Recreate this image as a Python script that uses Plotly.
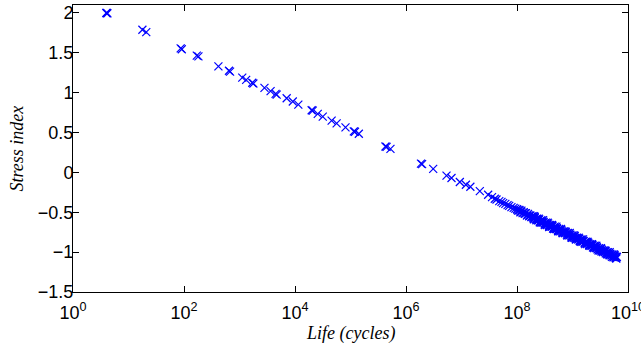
import plotly.graph_objects as go

# Sparse points: life (cycles) and stress index
life_sparse = [3.98, 4.07, 4.17, 17.8, 20.9, 87.1, 91.2, 170, 182, 417, 646, 676,
               1122, 1318, 1698, 1778, 2818, 3631, 4467, 4677, 7079, 9120, 11482,
               19953, 20893, 25704, 31623, 45709, 56234, 81283, 114815, 120226,
               141254, 426580, 446684, 524807, 1862087, 1949845, 3090295,
               5370318, 6606934, 9332543, 1.2e7, 1.445e7, 2.138e7, 3.02e7]
stress_sparse = [2.00, 2.00, 1.995, 1.79, 1.76, 1.555, 1.545, 1.465, 1.455, 1.33, 1.275, 1.265,
                 1.19, 1.16, 1.125, 1.115, 1.06, 1.02, 0.985, 0.975, 0.93, 0.89, 0.85,
                 0.78, 0.775, 0.735, 0.70, 0.65, 0.615, 0.565, 0.515, 0.51,
                 0.485, 0.325, 0.32, 0.295, 0.11, 0.105, 0.045,
                 -0.04, -0.07, -0.12, -0.155, -0.18, -0.235, -0.28]

# Dense band (upper strand)
life_band = [3.55e7, 3.98e7, 4.27e7, 4.79e7, 5.25e7, 5.62e7, 6.17e7, 6.76e7, 7.24e7, 7.94e7,
             8.71e7, 9.33e7, 1.02e8, 1.12e8, 1.20e8, 1.32e8, 1.41e8, 1.55e8, 1.66e8, 1.82e8,
             1.95e8, 2.09e8, 2.29e8, 2.45e8, 2.63e8, 2.82e8, 3.02e8, 3.24e8, 3.47e8, 3.72e8,
             3.98e8, 4.27e8, 4.57e8, 4.90e8, 5.25e8, 5.62e8, 6.03e8, 6.46e8, 6.92e8, 7.41e8,
             7.94e8, 8.51e8, 9.12e8, 9.77e8, 1.05e9, 1.12e9, 1.20e9, 1.29e9, 1.38e9, 1.48e9,
             1.58e9, 1.70e9, 1.82e9, 1.95e9, 2.09e9, 2.24e9, 2.40e9, 2.57e9, 2.75e9, 2.95e9,
             3.16e9, 3.39e9, 3.63e9, 3.89e9, 4.17e9, 4.47e9, 4.79e9, 5.13e9, 5.50e9, 5.89e9,
             6.17e9]
stress_band = [-0.31, -0.33, -0.34, -0.36, -0.37, -0.385, -0.395, -0.41, -0.42, -0.435,
               -0.445, -0.455, -0.47, -0.48, -0.495, -0.505, -0.515, -0.53, -0.54, -0.555,
               -0.565, -0.575, -0.585, -0.60, -0.61, -0.62, -0.63, -0.64, -0.65, -0.66,
               -0.665, -0.68, -0.69, -0.70, -0.71, -0.72, -0.73, -0.74, -0.745, -0.76,
               -0.765, -0.78, -0.785, -0.80, -0.805, -0.82, -0.825, -0.84, -0.845, -0.855,
               -0.865, -0.875, -0.885, -0.895, -0.905, -0.915, -0.925, -0.935, -0.945, -0.955,
               -0.965, -0.975, -0.985, -0.995, -1.005, -1.015, -1.025, -1.035, -1.045, -1.055,
               -1.06]

# Dense band (lower strand)
life_band2 = [2.02e8, 2.57e8, 3.16e8, 3.80e8, 4.47e8, 5.50e8, 6.61e8, 8.13e8, 9.55e8, 1.15e9,
              1.35e9, 1.66e9, 2.00e9, 2.34e9, 2.82e9, 3.31e9, 3.98e9, 4.68e9, 5.50e9, 6.03e9]
stress_band2 = [-0.59, -0.625, -0.655, -0.685, -0.705, -0.735, -0.76, -0.79, -0.815, -0.84,
                -0.86, -0.89, -0.915, -0.94, -0.965, -0.99, -1.015, -1.04, -1.065, -1.075]

# Dense band (packed core)
life_band3 = [1.00e8, 1.05e8, 1.10e8, 1.15e8, 1.20e8, 1.26e8, 1.32e8, 1.38e8, 1.45e8, 1.51e8,
              1.58e8, 1.66e8, 1.74e8, 1.82e8, 1.91e8, 2.00e8, 2.09e8, 2.19e8, 2.29e8, 2.40e8,
              2.51e8, 2.63e8, 2.75e8, 2.88e8, 3.02e8, 3.16e8, 3.31e8, 3.47e8, 3.63e8, 3.80e8,
              3.98e8, 4.17e8, 4.37e8, 4.57e8, 4.79e8, 5.01e8, 5.25e8, 5.50e8, 5.75e8, 6.03e8,
              6.31e8, 6.61e8, 6.92e8, 7.24e8, 7.59e8, 7.94e8, 8.32e8, 8.71e8, 9.12e8, 9.55e8,
              1.00e9, 1.05e9, 1.10e9, 1.15e9, 1.20e9, 1.26e9, 1.32e9, 1.38e9, 1.45e9, 1.51e9,
              1.58e9, 1.66e9, 1.74e9, 1.82e9, 1.91e9, 2.00e9, 2.09e9, 2.19e9, 2.29e9, 2.40e9,
              2.51e9, 2.63e9, 2.75e9, 2.88e9, 3.02e9, 3.16e9, 3.31e9, 3.47e9, 3.63e9, 3.80e9,
              3.98e9, 4.17e9, 4.37e9, 4.57e9, 4.79e9, 5.01e9, 5.25e9, 5.50e9, 5.75e9, 6.03e9,
              6.31e9]
stress_band3 = [-0.46, -0.48, -0.47, -0.50, -0.48, -0.51, -0.50, -0.52, -0.51, -0.54,
                -0.52, -0.55, -0.54, -0.56, -0.55, -0.58, -0.56, -0.59, -0.58, -0.60,
                -0.59, -0.62, -0.60, -0.63, -0.62, -0.64, -0.63, -0.66, -0.64, -0.67,
                -0.66, -0.68, -0.67, -0.70, -0.68, -0.71, -0.70, -0.72, -0.71, -0.74,
                -0.72, -0.75, -0.74, -0.76, -0.75, -0.78, -0.76, -0.79, -0.78, -0.80,
                -0.79, -0.82, -0.80, -0.83, -0.82, -0.84, -0.83, -0.86, -0.84, -0.87,
                -0.86, -0.88, -0.87, -0.90, -0.88, -0.91, -0.90, -0.92, -0.91, -0.94,
                -0.92, -0.95, -0.94, -0.96, -0.95, -0.98, -0.96, -0.99, -0.98, -1.00,
                -0.99, -1.02, -1.00, -1.03, -1.02, -1.04, -1.03, -1.06, -1.04, -1.07,
                -1.06]

# Dense band (outer scatter)
life_band4 = [2.04e8, 2.24e8, 2.45e8, 2.69e8, 2.95e8, 3.24e8, 3.55e8, 3.89e8, 4.27e8, 4.68e8,
              5.13e8, 5.62e8, 6.17e8, 6.76e8, 7.41e8, 8.13e8, 8.91e8, 9.77e8, 1.07e9, 1.17e9,
              1.29e9, 1.41e9, 1.55e9, 1.70e9, 1.86e9, 2.04e9, 2.24e9, 2.45e9, 2.69e9, 2.95e9,
              3.24e9, 3.55e9, 3.89e9, 4.27e9, 4.68e9, 5.13e9, 5.62e9, 6.17e9]
stress_band4 = [-0.55, -0.60, -0.58, -0.63, -0.60, -0.66, -0.63, -0.68, -0.66, -0.71,
                -0.68, -0.74, -0.71, -0.76, -0.74, -0.79, -0.76, -0.82, -0.79, -0.84,
                -0.82, -0.87, -0.84, -0.90, -0.87, -0.92, -0.90, -0.95, -0.92, -0.98,
                -0.95, -1.00, -0.98, -1.03, -1.00, -1.06, -1.03, -1.08]

x_tickvals = [1, 1e2, 1e4, 1e6, 1e8, 1e10]
x_ticktext = ["10<sup>0</sup>", "10<sup>2</sup>", "10<sup>4</sup>",
              "10<sup>6</sup>", "10<sup>8</sup>", "10<sup>10</sup>"]
y_tickvals = [-1.5, -1, -0.5, 0, 0.5, 1, 1.5, 2]
y_ticktext = ["\u22121.5", "\u22121", "\u22120.5", "0", "0.5", "1", "1.5", "2"]

x_title = "Life (cycles)"
y_title = "Stress index"

life_all = life_sparse + life_band + life_band2 + life_band3 + life_band4
stress_all = stress_sparse + stress_band + stress_band2 + stress_band3 + stress_band4

fig = go.Figure()
fig.add_trace(go.Scatter(
    x=life_all, y=stress_all, mode="markers",
    marker=dict(symbol="x-thin", size=8, color="#0000ff",
                line=dict(width=1.2, color="#0000ff")),
    showlegend=False,
))

tick_font = dict(family="Arial, Liberation Sans, Helvetica, sans-serif", size=18, color="black")
title_font = dict(family="Times New Roman, Liberation Serif, serif", size=18, color="black")

axis_common = dict(showline=True, mirror="ticks", linecolor="black", linewidth=1,
                   ticks="inside", ticklen=6, tickcolor="black", tickwidth=1,
                   showgrid=False, zeroline=False, tickfont=tick_font,
                   ticklabeloverflow="allow", automargin=False)

fig.update_xaxes(type="log", range=[0, 10], tickvals=x_tickvals, ticktext=x_ticktext,
                 ticklabelstandoff=4, **axis_common)
fig.update_yaxes(range=[-1.5, 2.1], tickvals=y_tickvals, ticktext=y_ticktext,
                 ticklabelstandoff=-5, **axis_common)

fig.add_annotation(text="<i>" + x_title + "</i>", xref="paper", yref="paper",
                   x=0.5, y=0, yshift=-41, xanchor="center", yanchor="middle",
                   showarrow=False, font=title_font)
fig.add_annotation(text="<i>" + y_title + "</i>", xref="paper", yref="paper",
                   x=0, y=0.5, xshift=-57, xanchor="center", yanchor="middle",
                   textangle=-90, showarrow=False, font=title_font)

fig.update_layout(width=641, height=349, margin=dict(l=73, r=13, t=5, b=57),
                  plot_bgcolor="white", paper_bgcolor="white")

fig.write_html("out.html")
